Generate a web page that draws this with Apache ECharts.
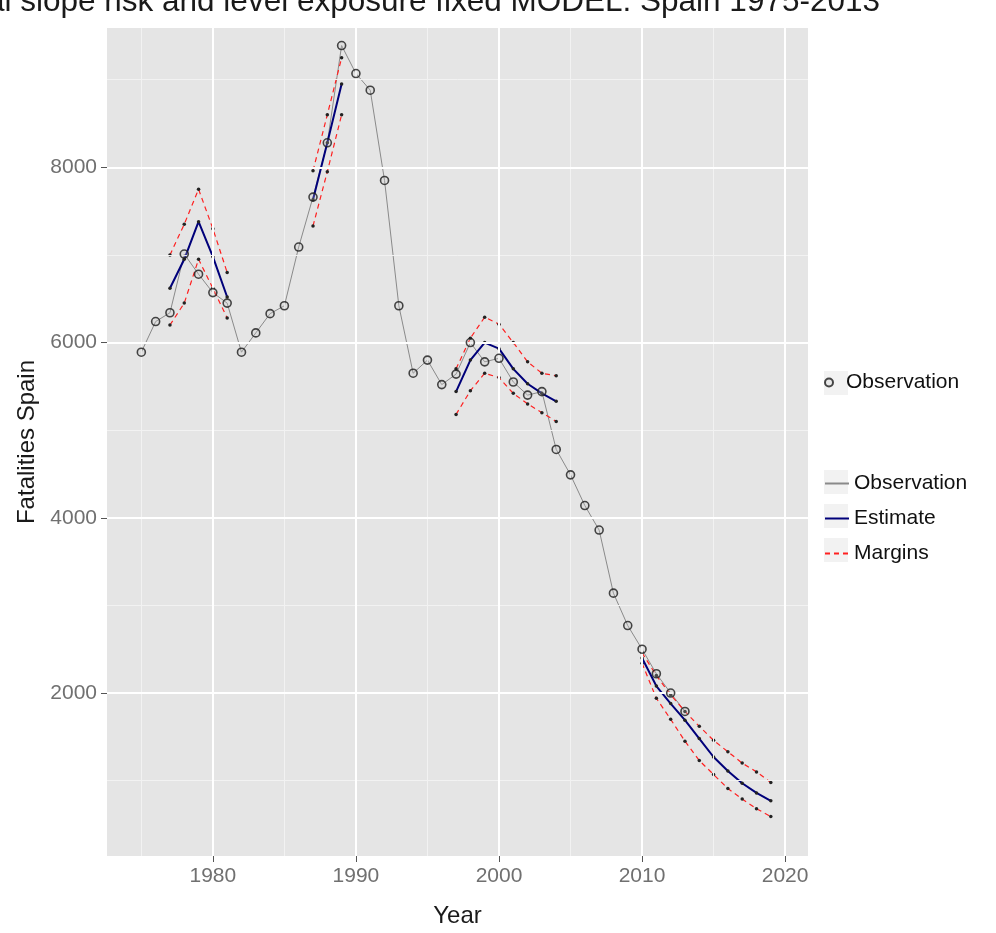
<!DOCTYPE html>
<html><head><meta charset="utf-8">
<script src="https://cdn.jsdelivr.net/npm/echarts@6/dist/echarts.min.js"></script>
<style>html,body{margin:0;padding:0;background:#fff}#c{width:996px;height:933px}</style>
</head><body><div id="c"></div>
<script>
// ---- data ----
const obsYears = [1975,1976,1977,1978,1979,1980,1981,1982,1983,1984,1985,1986,1987,1988,1989,1990,1991,1992,1993,1994,1995,1996,1997,1998,1999,2000,2001,2002,2003,2004,2005,2006,2007,2008,2009,2010,2011,2012,2013];
const observed = [5890,6240,6340,7010,6780,6570,6450,5890,6110,6330,6420,7090,7660,8280,9390,9070,8880,7850,6420,5650,5800,5520,5640,6000,5780,5820,5550,5400,5440,4780,4490,4140,3860,3140,2770,2500,2220,2000,1790];
const fitYears = [[1977,1978,1979,1980,1981],[1987,1988,1989],[1997,1998,1999,2000,2001,2002,2003,2004],[2010,2011,2012,2013,2014,2015,2016,2017,2018,2019]];
const estimate = [[6620,6950,7380,6980,6520],[7630,8280,8950],[5440,5800,6000,5930,5700,5530,5420,5330],[2400,2080,1880,1690,1480,1270,1110,970,860,770]];
const upperMargin = [[7000,7350,7750,7300,6800],[7960,8600,9250],[5700,6050,6290,6210,6000,5780,5650,5620],[2460,2200,1980,1790,1620,1460,1330,1200,1100,980]];
const lowerMargin = [[6200,6450,6950,6620,6280],[7330,7950,8600],[5180,5450,5650,5600,5420,5300,5200,5100],[2340,1940,1700,1450,1230,1070,910,790,680,590]];
const xTicks = [1980,1990,2000,2010,2020];
const xMinor = [1975,1985,1995,2005,2015];
const yTicks = [2000,4000,6000,8000];
const yMinor = [1000,3000,5000,7000,9000];
const titleText = 'Local slope risk and level exposure fixed MODEL: Spain 1975-2013';

// ---- styles ----
const FONT = 'Liberation Sans, Arial, sans-serif';
const gridBox = {left:107, right:188, top:28, bottom:67};
const titleSize = 31.5;

const chart = echarts.init(document.getElementById('c'), null, {renderer:'canvas'});

const gridLines = [];
xMinor.forEach(v => gridLines.push({xAxis:v, lineStyle:{color:'#f2f2f2', width:1, type:'solid'}}));
yMinor.forEach(v => gridLines.push({yAxis:v, lineStyle:{color:'#f2f2f2', width:1, type:'solid'}}));
xTicks.forEach(v => gridLines.push({xAxis:v, lineStyle:{color:'#ffffff', width:2, type:'solid'}}));
yTicks.forEach(v => gridLines.push({yAxis:v, lineStyle:{color:'#ffffff', width:2, type:'solid'}}));

const series = [{
  type:'line', name:'grid', data:[], z:0, silent:true,
  markLine:{silent:true, symbol:'none', animation:false, label:{show:false}, emphasis:{disabled:true}, data:gridLines}
},{
  type:'line', name:'Observation ', z:2, symbol:'none',
  lineStyle:{color:'#8a8a8a', width:1}, itemStyle:{color:'#8a8a8a'},
  data: obsYears.map((y,i)=>[y, observed[i]])
}];
fitYears.forEach((yrs, w) => {
  series.push({type:'line', name:'Margins', z:3, symbol:'circle', symbolSize:3.5,
    itemStyle:{color:'#222'}, lineStyle:{color:'#ff2020', width:1.2, type:[5,4]},
    data: yrs.map((y,i)=>[y, upperMargin[w][i]])});
  series.push({type:'line', name:'Margins', z:3, symbol:'circle', symbolSize:3.5,
    itemStyle:{color:'#222'}, lineStyle:{color:'#ff2020', width:1.2, type:[5,4]},
    data: yrs.map((y,i)=>[y, lowerMargin[w][i]])});
  series.push({type:'line', name:'Estimate', z:4, symbol:'circle', symbolSize:3.5,
    itemStyle:{color:'#222'}, lineStyle:{color:'#00007a', width:2},
    data: yrs.map((y,i)=>[y, estimate[w][i]])});
});
series.push({
  type:'scatter', name:'Observation', z:5, symbol:'circle', symbolSize:8,
  itemStyle:{color:'rgba(200,200,200,0.3)', borderColor:'#1a1a1a', borderWidth:1.6},
  data: obsYears.map((y,i)=>[y, observed[i]])
});

const plain = v => String(v);

chart.setOption({
  animation:false,
  backgroundColor:'#ffffff',
  textStyle:{fontFamily:FONT},
  graphic:[
    {type:'rect', silent:true, shape:{x:824, y:371, width:24, height:24}, style:{fill:'#f2f2f2'}},
    {type:'rect', silent:true, shape:{x:824, y:470, width:24, height:24}, style:{fill:'#f2f2f2'}},
    {type:'rect', silent:true, shape:{x:824, y:504, width:24, height:24}, style:{fill:'#f2f2f2'}},
    {type:'rect', silent:true, shape:{x:824, y:538, width:24, height:24}, style:{fill:'#f2f2f2'}},
    {type:'text', x:880, y:18, silent:true,
    style:{text:titleText, fontFamily:FONT, fontSize:titleSize, fill:'#1a1a1a', textAlign:'right', textVerticalAlign:'bottom'}}],
  grid:{...gridBox, show:true, backgroundColor:'#e5e5e5', borderWidth:0, containLabel:false},
  legend:[{
    data:['Observation'], orient:'vertical', left:819, top:372, padding:[0,5,0,5], itemWidth:24, itemHeight:8, itemGap:10,
    textStyle:{fontSize:21, color:'#111', fontFamily:FONT}, selectedMode:false
  },{
    data:['Observation ','Estimate','Margins'], orient:'vertical', left:819, top:468, itemWidth:24, itemHeight:14, itemGap:14,
    itemStyle:{opacity:0},
    textStyle:{fontSize:21, color:'#111', fontFamily:FONT}, selectedMode:false
  }],
  xAxis:{type:'value', min:1972.6, max:2021.6,
    name:'Year', nameLocation:'middle', nameGap:48, nameTextStyle:{fontSize:24, color:'#1a1a1a', fontFamily:FONT},
    axisLine:{show:false}, splitLine:{show:false},
    axisTick:{show:true, length:6, customValues:xTicks, lineStyle:{color:'#555', width:1}},
    axisLabel:{customValues:xTicks, formatter:plain, fontSize:21, color:'#707070', margin:10, fontFamily:FONT}
  },
  yAxis:{type:'value', min:140, max:9590,
    name:'Fatalities Spain', nameLocation:'middle', nameGap:48, nameRotate:90, nameTextStyle:{fontSize:24, color:'#1a1a1a', fontFamily:FONT},
    axisLine:{show:false}, splitLine:{show:false},
    axisTick:{show:true, length:6, customValues:yTicks, lineStyle:{color:'#555', width:1}},
    axisLabel:{customValues:yTicks, formatter:plain, fontSize:21, color:'#707070', margin:10, fontFamily:FONT}
  },
  series
});
</script></body></html>
